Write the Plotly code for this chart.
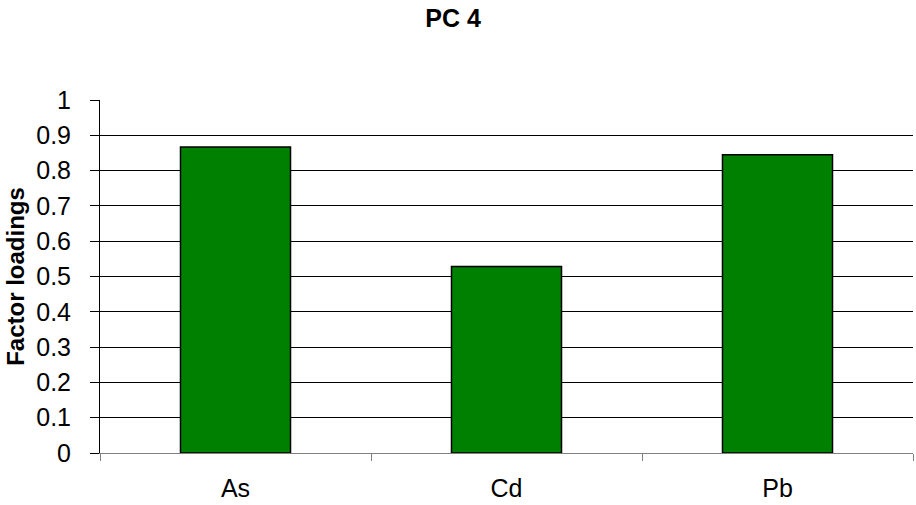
import plotly.graph_objects as go

# Factor loadings for principal component 4
elements = ["As", "Cd", "Pb"]
loadings = [0.867, 0.528, 0.845]
y_ticks = [0, 0.1, 0.2, 0.3, 0.4, 0.5, 0.6, 0.7, 0.8, 0.9, 1]
y_tick_text = ["0", "0.1", "0.2", "0.3", "0.4", "0.5", "0.6", "0.7", "0.8", "0.9", "1"]

font_family = "Liberation Sans, Arial, sans-serif"

fig = go.Figure(
    go.Bar(
        x=elements,
        y=loadings,
        marker=dict(color="#008000", line=dict(color="black", width=1.5)),
    )
)

fig.update_layout(
    width=916,
    height=505,
    margin=dict(l=100, r=3, t=100, b=52),
    paper_bgcolor="white",
    plot_bgcolor="white",
    bargap=0.594,
    showlegend=False,
    font=dict(family=font_family, size=25, color="black"),
    title=dict(
        text="<b>PC 4</b>",
        x=453 / 916,
        xanchor="center",
        y=1 - 18 / 505,
        yanchor="middle",
        font=dict(size=25, family=font_family, color="black"),
    ),
)

fig.update_xaxes(
    showline=True,
    linecolor="#808080",
    linewidth=1,
    ticks="outside",
    tickson="boundaries",
    ticklen=7,
    tickcolor="#808080",
    tickfont=dict(size=25),
    ticklabelstandoff=13,
    showgrid=False,
)

fig.update_yaxes(
    range=[0, 1],
    tickvals=y_ticks,
    ticktext=y_tick_text,
    showline=True,
    linecolor="black",
    linewidth=1,
    ticks="outside",
    ticklen=9,
    tickcolor="black",
    showgrid=True,
    gridcolor="black",
    gridwidth=1,
    tickfont=dict(size=25),
    ticklabelstandoff=14,
    title=dict(text="<b>Factor loadings</b>", font=dict(size=24), standoff=4),
    zeroline=False,
)

fig.write_html("out.html")
